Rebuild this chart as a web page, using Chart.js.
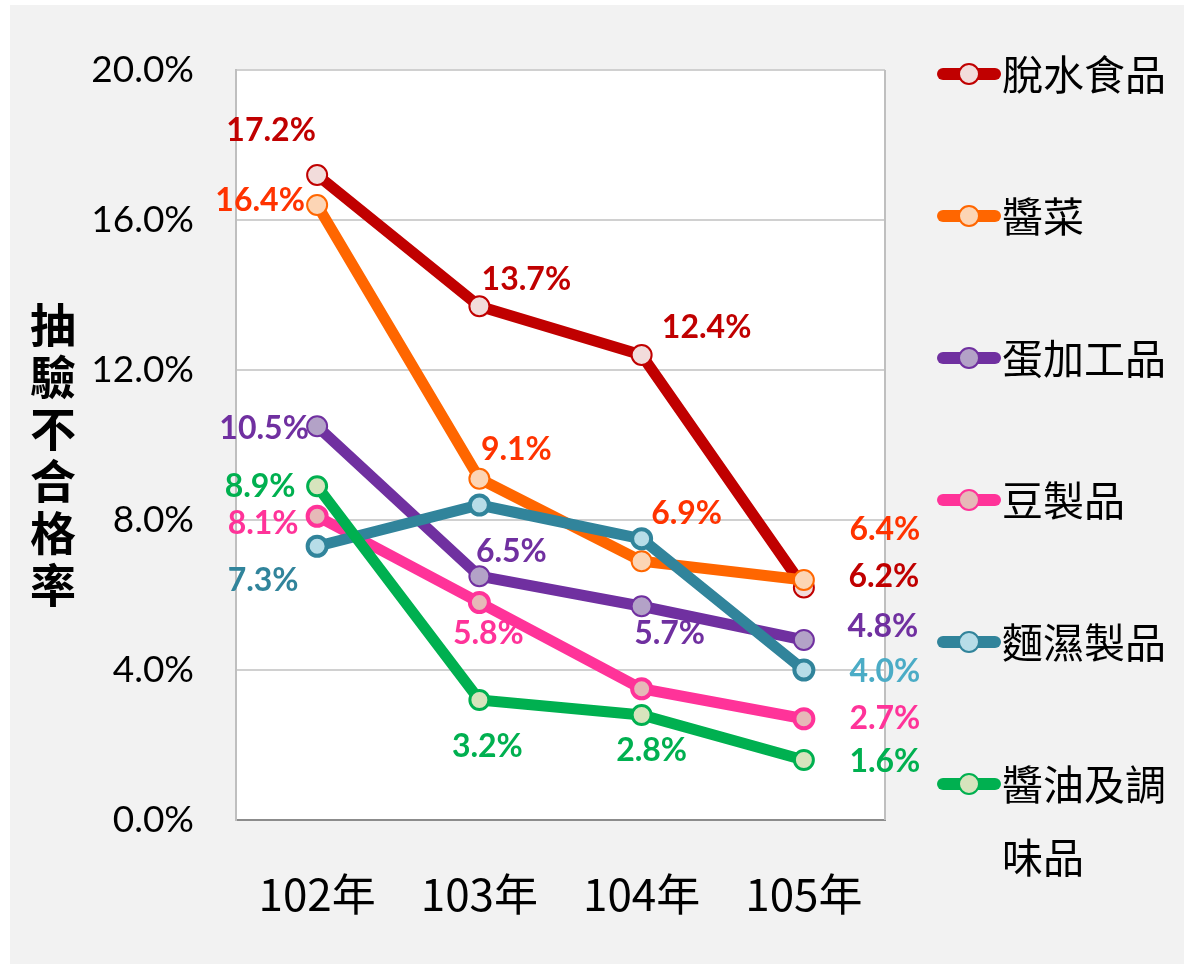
<!DOCTYPE html>
<html>
<head>
<meta charset="utf-8">
<script src="https://cdn.jsdelivr.net/npm/chart.js@4.4.1/dist/chart.umd.min.js"></script>
<style>
  html, body { margin: 0; padding: 0; background: #fff; }
  #wrap { position: relative; width: 1184px; height: 964px; }
</style>
</head>
<body>
<div id="wrap"><canvas id="rate-chart" width="1184" height="964"></canvas></div>
<script>
const categories = ['102年', '103年', '104年', '105年'];
const seriesNames = ['脫水食品', '醬菜', '蛋加工品', '豆製品', '麵濕製品', '醬油及調味品'];
const dehydrated = [17.2, 13.7, 12.4, 6.2];
const pickles = [16.4, 9.1, 6.9, 6.4];
const eggProducts = [10.5, 6.5, 5.7, 4.8];
const soyProducts = [8.1, 5.8, 3.5, 2.7];
const wetNoodles = [7.3, 8.4, 7.5, 4.0];
const sauces = [8.9, 3.2, 2.8, 1.6];
const yTicks = [0, 4, 8, 12, 16, 20];
const yTitle = '抽驗不合格率';

const seriesValues = [dehydrated, pickles, eggProducts, soyProducts, wetNoodles, sauces];

// look of each series
const lineColors = ['#c00000', '#ff6600', '#7030a0', '#ff3399', '#31849b', '#00b050'];
const markerFills = ['#f2dcdb', '#fcd5b5', '#b3a2c7', '#e6b9b8', '#b7dde8', '#d7e4bd'];
const markerBorders = [2, 2, 2, 4, 4, 3];
const labelColors = [
    ['#c00000', '#c00000', '#c00000', '#c00000'],
    ['#ff3300', '#ff3300', '#ff3300', '#ff3300'],
    ['#7030a0', '#7030a0', '#7030a0', '#7030a0'],
    ['#ff3399', '#ff3399', '#ff3399', '#ff3399'],
    ['#31849b', '#31849b', '#31849b', '#4bacc6'],
    ['#00b050', '#00b050', '#00b050', '#00b050']
];
// label offsets from the point (null = no label)
const labelOffsets = [
    [[-46, -44], [47, -27], [65, -27], [80, -11]],
    [[-57, -4], [37, -29], [45, -48], [81, -50]],
    [[-53, 2], [32, -25], [28, 27], [79, -13]],
    [[-54, 7], [9, 31], null, [81, 0]],
    [[-54, 34], null, null, [81, 2]],
    [[-57, 0], [8, 47], [10, 36], [81, 2]]
];

const backdrop = {
    id: 'backdrop',
    beforeDraw(chart) {
        const ctx = chart.ctx;
        const a = chart.chartArea;
        ctx.save();
        ctx.fillStyle = '#ffffff';
        ctx.fillRect(0, 0, chart.width, chart.height);
        ctx.fillStyle = '#f2f2f2';
        ctx.fillRect(10, 5, chart.width - 10, chart.height - 5);
        ctx.fillStyle = '#ffffff';
        ctx.fillRect(a.left, a.top, a.right - a.left, a.bottom - a.top);
        ctx.restore();
    },
    beforeDatasetsDraw(chart) {
        const ctx = chart.ctx;
        const a = chart.chartArea;
        ctx.save();
        ctx.strokeStyle = '#bfbfbf';
        ctx.lineWidth = 2;
        ctx.beginPath();
        ctx.moveTo(a.right, a.top);
        ctx.lineTo(a.right, a.bottom);
        ctx.stroke();
        ctx.restore();
    }
};

const pointLabels = {
    id: 'pointLabels',
    afterDatasetsDraw(chart) {
        const ctx = chart.ctx;
        ctx.save();
        ctx.font = 'bold 32px Lato, "Noto Sans", sans-serif';
        ctx.textAlign = 'center';
        ctx.textBaseline = 'middle';
        seriesValues.forEach((vals, i) => {
            const meta = chart.getDatasetMeta(i);
            vals.forEach((v, j) => {
                const off = labelOffsets[i][j];
                if (!off) return;
                const pt = meta.data[j];
                ctx.fillStyle = labelColors[i][j];
                ctx.fillText(v.toFixed(1) + '%', pt.x + off[0], pt.y + off[1]);
            });
        });
        ctx.restore();
    }
};

const sideLegend = {
    id: 'sideLegend',
    afterDraw(chart) {
        const ctx = chart.ctx;
        ctx.save();
        seriesNames.forEach((name, i) => {
            const y = 74 + 142 * i;
            ctx.strokeStyle = lineColors[i];
            ctx.lineWidth = 12;
            ctx.lineCap = 'round';
            ctx.beginPath();
            ctx.moveTo(943, y);
            ctx.lineTo(995, y);
            ctx.stroke();
            ctx.beginPath();
            ctx.arc(969, y, 10, 0, Math.PI * 2);
            ctx.fillStyle = markerFills[i];
            ctx.fill();
            ctx.lineWidth = 2;
            ctx.strokeStyle = lineColors[i];
            ctx.stroke();

            ctx.fillStyle = '#000';
            ctx.font = '41px "Noto Sans CJK TC", sans-serif';
            ctx.textAlign = 'left';
            ctx.textBaseline = 'middle';
            const first = name.slice(0, 4);
            const rest = name.slice(4);
            ctx.fillText(first, 1002, y);
            if (rest) ctx.fillText(rest, 1002, y + 73);
        });

        // vertical axis title, one character per row
        ctx.font = 'bold 46px "Noto Sans CJK TC", sans-serif';
        ctx.textAlign = 'center';
        ctx.textBaseline = 'middle';
        ctx.fillStyle = '#000';
        Array.from(yTitle).forEach((ch, k) => {
            ctx.fillText(ch, 53, 325 + 52 * k);
        });
        ctx.restore();
    }
};

const datasets = seriesValues.map((vals, i) => ({
    label: seriesNames[i],
    data: vals,
    borderColor: lineColors[i],
    borderWidth: 11,
    backgroundColor: markerFills[i],
    pointBackgroundColor: markerFills[i],
    pointBorderColor: lineColors[i],
    pointBorderWidth: markerBorders[i],
    pointRadius: markerBorders[i] > 2 ? 9.5 : 10,
    tension: 0,
    order: seriesValues.length - i
}));

new Chart(document.getElementById('rate-chart'), {
    type: 'line',
    data: { labels: categories, datasets: datasets },
    options: {
        responsive: false,
        animation: false,
        layout: { padding: { top: 70, right: 299, left: 0, bottom: 0 } },
        plugins: {
            legend: { display: false },
            tooltip: { enabled: false }
        },
        scales: {
            x: {
                offset: true,
                grid: { display: false, drawTicks: false },
                border: { color: '#8c8c8c', width: 2 },
                ticks: {
                    color: '#000',
                    padding: 48,
                    font: { family: '"Noto Sans CJK TC", sans-serif', size: 44 }
                },
                afterFit(scale) { scale.height = 144; }
            },
            y: {
                min: 0,
                max: 20,
                afterBuildTicks(scale) { scale.ticks = yTicks.map(v => ({ value: v })); },
                grid: { color: '#d0d0d0', lineWidth: 2, drawTicks: false },
                border: { color: '#bfbfbf', width: 2 },
                ticks: {
                    color: '#000',
                    padding: 42,
                    font: { family: 'Lato, "Noto Sans", sans-serif', size: 37 },
                    callback: v => v.toFixed(1) + '%'
                },
                afterFit(scale) { scale.width = 236; }
            }
        }
    },
    plugins: [backdrop, pointLabels, sideLegend]
});
</script>
</body>
</html>
